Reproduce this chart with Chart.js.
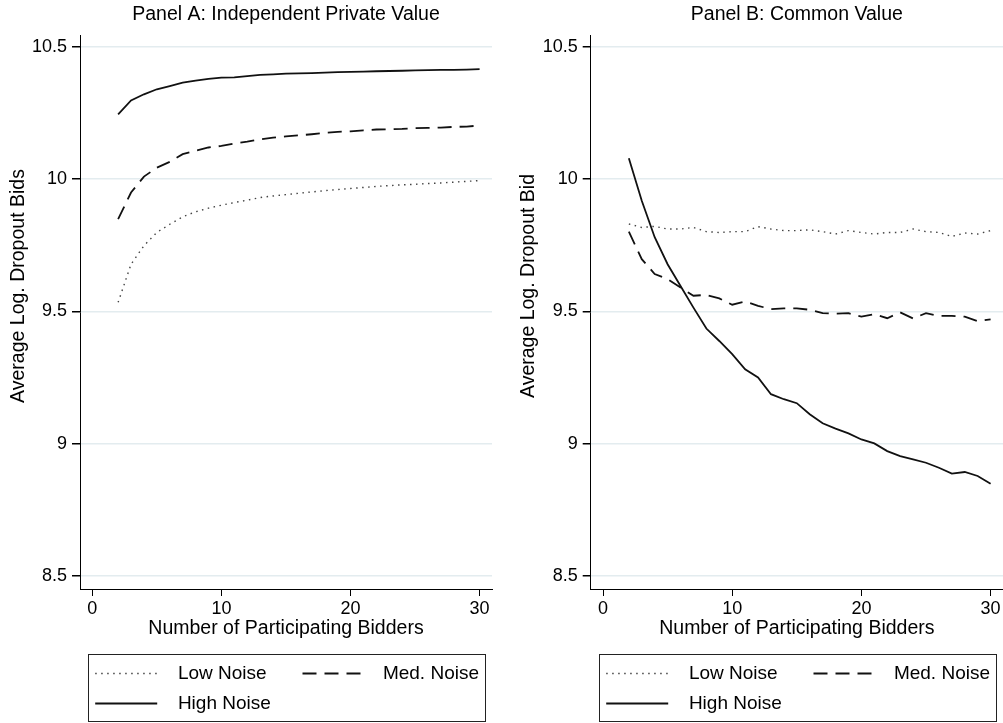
<!DOCTYPE html>
<html>
<head>
<meta charset="utf-8">
<script src="https://cdn.jsdelivr.net/npm/chart.js@4.4.1/dist/chart.umd.min.js"></script>
<style>
	html, body { margin: 0; padding: 0; background: #fff; }
	body { width: 1003px; height: 723px; position: relative; overflow: hidden; }
	canvas { position: absolute; top: 0; }
	#panelA { left: 0; }
	#panelB { left: 510px; }
</style>
</head>
<body>
<canvas id="panelA" width="500" height="723"></canvas>
<canvas id="panelB" width="493" height="723"></canvas>
<script>
const bidders = [2, 3, 4, 5, 6, 7, 8, 9, 10, 11, 12, 13, 14, 15, 16, 17, 18, 19, 20, 21, 22, 23, 24, 25, 26, 27, 28, 29, 30];
const xTicks = [0, 10, 20, 30];
const yTicks = [8.5, 9, 9.5, 10, 10.5];
const seriesNames = ['Low Noise', 'Med. Noise', 'High Noise'];

// Panel A: independent private value
const ipvLow = [9.534, 9.678, 9.748, 9.798, 9.829, 9.857, 9.876, 9.890, 9.901, 9.911, 9.920, 9.930, 9.936, 9.941, 9.946, 9.951, 9.956, 9.960, 9.964, 9.968, 9.972, 9.975, 9.978, 9.980, 9.983, 9.985, 9.988, 9.991, 9.994];
const ipvMed = [9.848, 9.949, 10.009, 10.043, 10.065, 10.094, 10.107, 10.119, 10.125, 10.134, 10.141, 10.150, 10.156, 10.161, 10.165, 10.169, 10.174, 10.178, 10.180, 10.184, 10.187, 10.188, 10.189, 10.192, 10.193, 10.194, 10.197, 10.198, 10.202];
const ipvHigh = [10.244, 10.297, 10.320, 10.339, 10.351, 10.364, 10.372, 10.378, 10.383, 10.384, 10.389, 10.393, 10.395, 10.398, 10.399, 10.400, 10.402, 10.404, 10.405, 10.406, 10.407, 10.408, 10.409, 10.410, 10.411, 10.412, 10.412, 10.413, 10.415];

// Panel B: common value
const cvLow = [9.830, 9.817, 9.821, 9.811, 9.811, 9.817, 9.801, 9.798, 9.801, 9.801, 9.820, 9.811, 9.805, 9.805, 9.808, 9.801, 9.792, 9.805, 9.798, 9.792, 9.798, 9.798, 9.811, 9.801, 9.798, 9.783, 9.796, 9.792, 9.805];
const cvMed = [9.801, 9.697, 9.641, 9.622, 9.590, 9.559, 9.562, 9.549, 9.525, 9.537, 9.521, 9.508, 9.511, 9.511, 9.506, 9.493, 9.491, 9.493, 9.480, 9.489, 9.474, 9.496, 9.473, 9.493, 9.483, 9.483, 9.480, 9.463, 9.470];
const cvHigh = [10.078, 9.918, 9.780, 9.678, 9.596, 9.514, 9.435, 9.388, 9.338, 9.281, 9.250, 9.187, 9.168, 9.153, 9.111, 9.077, 9.057, 9.039, 9.016, 9.001, 8.972, 8.953, 8.941, 8.928, 8.909, 8.887, 8.893, 8.878, 8.849];

const FONT = '"Liberation Sans", Arial, Helvetica, sans-serif';
Chart.defaults.font.family = FONT;
Chart.defaults.color = '#000';

function toPoints(values) {
	return bidders.map((b, i) => ({ x: b, y: values[i] }));
}

// legend drawn as a framed box under the axis title, two columns like the original
const boxedLegend = {
	id: 'boxedLegend',
	afterDraw(chart) {
		const { ctx, chartArea } = chart;
		const left = Math.round(chartArea.left + 8.3) + 0.5;
		const right = Math.round(chartArea.right - 7) + 0.5;
		const top = Math.round(chartArea.bottom + 65.3) + 0.5;
		const height = 67;
		const slots = [
			{ dx: 6.7, len: 62, tx: 89.4, dy: 19 },
			{ dx: 214, len: 64, tx: 294.4, dy: 19 },
			{ dx: 6.7, len: 62, tx: 89.4, dy: 49 }
		];

		ctx.save();
		ctx.strokeStyle = '#222';
		ctx.lineWidth = 1;
		ctx.strokeRect(left, top, right - left, height);

		chart.data.datasets.forEach((ds, i) => {
			const slot = slots[i];
			const y = top + slot.dy;
			ctx.beginPath();
			ctx.setLineDash(ds.borderDash || []);
			ctx.lineWidth = ds.borderWidth;
			ctx.strokeStyle = ds.borderColor;
			ctx.moveTo(left + slot.dx, y);
			ctx.lineTo(left + slot.dx + slot.len, y);
			ctx.stroke();
			ctx.setLineDash([]);
			ctx.fillStyle = '#000';
			ctx.font = '19px ' + FONT;
			ctx.textBaseline = 'middle';
			ctx.textAlign = 'left';
			ctx.fillText(ds.label, left + slot.tx, y);
		});
		ctx.restore();
	}
};

// y title sits a little above the middle of the plot, as in the original
const sideTitle = {
	id: 'sideTitle',
	afterDraw(chart, args, opts) {
		const { ctx, chartArea } = chart;
		ctx.save();
		ctx.translate(19, (chartArea.top + chartArea.bottom) / 2 - 26);
		ctx.rotate(-Math.PI / 2);
		ctx.fillStyle = '#000';
		ctx.font = '19.5px ' + FONT;
		ctx.textAlign = 'center';
		ctx.textBaseline = 'middle';
		ctx.fillText(opts.text, 0, 0);
		ctx.restore();
	}
};

function makePanel(canvasId, titleText, yTitleText, low, med, high) {
	return new Chart(document.getElementById(canvasId), {
		type: 'line',
		data: {
			datasets: [
				{
					label: seriesNames[0],
					data: toPoints(low),
					borderColor: '#444',
					borderWidth: 1.4,
					borderDash: [1.5, 4.5],
					pointRadius: 0,
					tension: 0
				},
				{
					label: seriesNames[1],
					data: toPoints(med),
					borderColor: '#111',
					borderWidth: 1.8,
					borderDash: [14, 8],
					pointRadius: 0,
					tension: 0
				},
				{
					label: seriesNames[2],
					data: toPoints(high),
					borderColor: '#111',
					borderWidth: 1.8,
					pointRadius: 0,
					tension: 0
				}
			]
		},
		options: {
			responsive: false,
			animation: false,
			devicePixelRatio: 1,
			layout: {
				padding: { left: 0, right: canvasId === 'panelA' ? 8 : 0, top: 0, bottom: 70 }
			},
			plugins: {
				legend: { display: false },
				tooltip: { enabled: false },
				sideTitle: { text: yTitleText },
				title: {
					display: true,
					text: titleText,
					fullSize: false,
					color: '#000',
					font: { size: 19.5, weight: 'normal' },
					padding: { top: 3, bottom: 8.6 }
				}
			},
			scales: {
				x: {
					type: 'linear',
					min: -0.953,
					max: 30.96,
					afterBuildTicks: (scale) => {
						scale.ticks = xTicks.map((v) => ({ value: v }));
					},
					afterFit: (scale) => {
						scale.height = 64;
					},
					grid: {
						drawOnChartArea: false,
						drawTicks: true,
						tickLength: 7,
						tickColor: '#000'
					},
					border: { display: true, color: '#000', width: 1 },
					ticks: {
						padding: 2,
						maxRotation: 0,
						font: { size: 18 },
						color: '#000'
					},
					title: {
						display: true,
						text: 'Number of Participating Bidders',
						color: '#000',
						font: { size: 19.5 },
						padding: { top: 0, bottom: 12.3 }
					}
				},
				y: {
					type: 'linear',
					min: 8.451,
					max: 10.544,
					afterBuildTicks: (scale) => {
						scale.ticks = yTicks.map((v) => ({ value: v }));
					},
					afterFit: (scale) => {
						scale.width = canvasId === 'panelA' ? 80 : 80.7;
					},
					grid: {
						drawOnChartArea: true,
						color: '#e3ecef',
						lineWidth: 1.5,
						drawTicks: true,
						tickLength: 8,
						tickColor: '#000'
					},
					border: { display: true, color: '#000', width: 1 },
					ticks: {
						padding: 5,
						font: { size: 18 },
						color: '#000',
						callback: (value) => String(value)
					},
					title: { display: false }
				}
			}
		},
		plugins: [boxedLegend, sideTitle]
	});
}

makePanel('panelA', 'Panel A: Independent Private Value', 'Average Log. Dropout Bids', ipvLow, ipvMed, ipvHigh);
makePanel('panelB', 'Panel B: Common Value', 'Average Log. Dropout Bid', cvLow, cvMed, cvHigh);
</script>
</body>
</html>
